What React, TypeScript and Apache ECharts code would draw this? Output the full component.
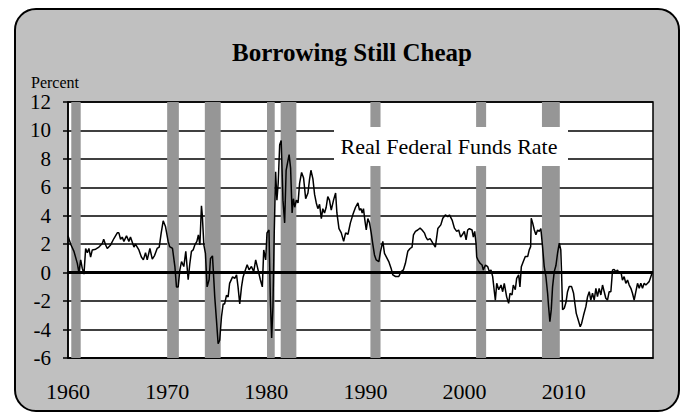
import React, { useEffect, useRef } from "react";
import * as echarts from "echarts";

const titleText = "Borrowing Still Cheap";
const unitText = "Percent";
const seriesName = "Real Federal Funds Rate";

const years = [
  1960.0, 1960.27, 1960.6, 1960.94, 1961.1, 1961.28, 1961.44, 1961.61, 1961.78, 1961.95,
  1962.11, 1962.28, 1962.45, 1962.79, 1963.12, 1963.46, 1963.6, 1963.8, 1963.96, 1964.3,
  1964.63, 1964.97, 1965.13, 1965.3, 1965.47, 1965.64, 1965.9, 1966.14, 1966.3, 1966.65,
  1966.8, 1967.15, 1967.4, 1967.6, 1967.82, 1967.99, 1968.26, 1968.5, 1968.73, 1968.99,
  1969.2, 1969.4, 1969.6, 1969.83, 1970.1, 1970.25, 1970.54, 1970.78, 1970.94, 1971.11,
  1971.28, 1971.45, 1971.68, 1971.88, 1972.12, 1972.29, 1972.45, 1972.62, 1972.79, 1973.0,
  1973.15, 1973.3, 1973.46, 1973.55, 1973.7, 1973.86, 1974.03, 1974.23, 1974.37, 1974.57,
  1974.7, 1974.8, 1974.97, 1975.14, 1975.3, 1975.48, 1975.65, 1975.8, 1975.98, 1976.15,
  1976.3, 1976.6, 1976.82, 1977.0, 1977.15, 1977.32, 1977.5, 1977.66, 1977.83, 1978.07,
  1978.26, 1978.5, 1978.73, 1978.93, 1979.17, 1979.4, 1979.6, 1979.74, 1979.94, 1980.07,
  1980.27, 1980.41, 1980.54, 1980.67, 1980.8, 1980.94, 1981.07, 1981.2, 1981.35, 1981.5,
  1981.68, 1981.85, 1982.0, 1982.3, 1982.45, 1982.6, 1982.73, 1982.87, 1983.03, 1983.2,
  1983.36, 1983.56, 1983.76, 1983.97, 1984.2, 1984.35, 1984.5, 1984.7, 1984.87, 1985.04,
  1985.2, 1985.37, 1985.55, 1985.7, 1985.87, 1986.04, 1986.2, 1986.37, 1986.55, 1986.78,
  1986.99, 1987.12, 1987.33, 1987.56, 1987.8, 1988.0, 1988.24, 1988.48, 1988.74, 1989.0,
  1989.24, 1989.4, 1989.55, 1989.67, 1989.8, 1989.94, 1990.08, 1990.24, 1990.41, 1990.58,
  1990.74, 1990.91, 1991.08, 1991.35, 1991.52, 1991.75, 1991.92, 1992.09, 1992.35, 1992.59,
  1992.76, 1993.03, 1993.36, 1993.6, 1993.83, 1994.03, 1994.27, 1994.5, 1994.7, 1994.84,
  1995.04, 1995.27, 1995.51, 1995.71, 1995.94, 1996.1, 1996.27, 1996.52, 1996.78, 1997.05,
  1997.3, 1997.6, 1997.8, 1998.06, 1998.3, 1998.47, 1998.74, 1998.97, 1999.2, 1999.4,
  1999.6, 1999.8, 1999.97, 2000.15, 2000.31, 2000.48, 2000.75, 2000.88, 2001.02, 2001.15,
  2001.22, 2001.35, 2001.56, 2001.76, 2001.89, 2002.1, 2002.33, 2002.5, 2002.66, 2002.83,
  2003.0, 2003.1, 2003.24, 2003.44, 2003.67, 2003.84, 2004.0, 2004.24, 2004.44, 2004.58,
  2004.78, 2004.91, 2005.11, 2005.25, 2005.45, 2005.58, 2005.72, 2005.92, 2006.12, 2006.36,
  2006.52, 2006.66, 2006.72, 2006.86, 2007.03, 2007.19, 2007.36, 2007.53, 2007.69, 2007.86,
  2008.03, 2008.2, 2008.37, 2008.47, 2008.6, 2008.74, 2008.87, 2009.04, 2009.21, 2009.38,
  2009.55, 2009.7, 2009.78, 2009.88, 2010.05, 2010.22, 2010.38, 2010.55, 2010.79, 2010.99,
  2011.12, 2011.26, 2011.46, 2011.66, 2011.8, 2012.0, 2012.23, 2012.4, 2012.57, 2012.73,
  2012.9, 2013.07, 2013.24, 2013.4, 2013.57, 2013.74, 2013.91, 2014.08, 2014.24, 2014.41,
  2014.58, 2014.75, 2014.92, 2015.08, 2015.25, 2015.42, 2015.59, 2015.76, 2015.92, 2016.09,
  2016.26, 2016.43, 2016.6, 2016.77, 2016.93, 2017.1, 2017.27, 2017.44, 2017.61, 2017.77,
  2017.94, 2018.11, 2018.28, 2018.45, 2018.61, 2018.78, 2018.95,
];

const rates = [
  2.6, 2.0, 1.5, 0.65, 0.0, 0.9, 0.3, -0.1, 1.7, 1.4,
  1.7, 1.1, 1.6, 1.65, 1.8, 2.05, 2.35, 1.95, 1.7, 1.95,
  2.4, 2.8, 2.8, 2.35, 2.5, 2.2, 2.6, 2.2, 2.5, 1.8,
  2.0, 1.6, 1.1, 0.9, 1.4, 0.9, 1.7, 0.95, 1.2, 1.7,
  1.8, 2.8, 3.65, 3.25, 2.2, 1.83, 1.7, 0.43, -1.0, -1.0,
  0.2, 0.78, 0.43, 1.5, -0.5, 0.66, 1.5, 1.6, 1.95, 2.2,
  2.66, 1.95, 4.7, 4.0, 1.95, 1.36, -1.0, -0.5, 1.0, 1.18,
  -0.4, -1.7, -3.3, -5.0, -4.75, -3.1, -2.2, -2.2, -1.6, -1.7,
  -0.75, -0.3, -0.4, -0.16, -1.0, -2.2, -1.0, -0.3, 0.07, 0.55,
  0.2, 0.43, 0.07, 0.9, 0.2, -0.5, -1.0, 1.6, 0.9, 2.8,
  3.0, -1.9, -4.6, -2.4, 2.8, 7.1, 5.1, 6.3, 9.0, 9.3,
  5.1, 3.5, 7.2, 8.3, 7.35, 4.2, 5.2, 4.6, 5.1, 4.9,
  6.3, 7.05, 6.65, 5.2, 5.6, 6.5, 7.2, 6.6, 5.5, 4.9,
  4.5, 4.8, 3.8, 4.5, 4.2, 4.6, 5.35, 5.1, 4.4, 5.1,
  5.6, 4.2, 3.1, 2.8, 2.2, 2.8, 2.7, 3.5, 4.1, 4.6,
  4.9, 4.4, 4.5, 4.2, 4.5, 3.7, 3.0, 3.8, 3.5, 2.8,
  2.0, 1.25, 0.9, 0.78, 1.5, 2.2, 1.36, 1.13, 0.78, 0.3,
  -0.16, -0.27, -0.27, 0.07, 0.2, 0.66, 1.5, 1.7, 1.8, 2.66,
  2.9, 3.0, 3.13, 3.0, 2.8, 2.5, 2.3, 2.4, 2.1, 1.8,
  3.1, 3.36, 3.83, 4.06, 3.94, 4.06, 3.7, 3.13, 2.9, 3.0,
  2.5, 2.7, 2.9, 2.3, 3.0, 3.1, 3.0, 2.5, 2.9, 2.07,
  1.1, 0.9, 0.66, 0.54, 0.19, 0.54, 0.42, 0.07, 0.19, -0.28,
  -1.34, -1.93, -0.75, -1.2, -0.87, -1.34, -0.75, -1.7, -2.16, -1.45,
  -1.57, -0.87, -1.2, -0.4, -0.16, -1.0, 0.42, 0.78, 1.13, 1.13,
  1.6, 1.83, 3.83, 3.5, 3.0, 2.66, 3.0, 2.9, 3.1, 1.83,
  0.42, -0.28, -1.45, -2.4, -3.44, -2.6, -1.0, 0.07, 0.5, 1.4,
  2.07, 1.6, -0.05, -2.6, -2.5, -2.1, -1.34, -0.98, -0.98, -1.45,
  -2.16, -2.86, -3.33, -3.8, -3.57, -2.98, -2.39, -1.69, -1.34, -1.93,
  -1.45, -1.93, -1.1, -1.69, -1.1, -1.57, -0.87, -1.34, -1.8, -1.93,
  -1.34, -1.34, 0.19, 0.23, 0.07, 0.19, -0.05, 0.07, -0.52, -0.28,
  -0.75, -0.52, -0.87, -1.1, -1.45, -1.93, -1.34, -0.75, -1.1, -0.75,
  -1.1, -0.75, -0.87, -0.75, -0.63, -0.28, 0.07,
];

const recessionStarts = [1960.33, 1970.0, 1973.8, 1980.07, 1981.45, 1990.5, 2001.16, 2007.8];
const recessionEnds = [1961.28, 1971.18, 1975.4, 1980.85, 1983.03, 1991.52, 2002.17, 2009.6];

const xMin = 1960;
const xMax = 2019;
const xStep = 10;
const yMin = -6;
const yMax = 12;
const yStep = 2;

export default function App() {
  const ref = useRef<HTMLDivElement>(null);

  useEffect(() => {
    if (!ref.current) return;
    const chart = echarts.init(ref.current, null, { renderer: "svg" });
    const serif = "'Liberation Serif', 'Times New Roman', serif";
    const black = "#000000";
    chart.setOption({
      animation: false,
      grid: {
        left: 68,
        right: 34,
        top: 102,
        bottom: 58,
        show: true,
        backgroundColor: "#ffffff",
        borderColor: black,
        borderWidth: 1.5,
      },
      xAxis: {
        type: "value",
        min: xMin,
        max: xMax,
        interval: xStep,
        axisLine: { show: true, onZero: false, lineStyle: { color: black, width: 1.5 } },
        axisTick: { show: false },
        splitLine: { show: false },
        axisLabel: {
          color: black,
          fontFamily: serif,
          fontSize: 22,
          margin: 22,
          showMaxLabel: false,
          formatter: (v: number) => String(v),
        },
      },
      yAxis: {
        type: "value",
        min: yMin,
        max: yMax,
        interval: yStep,
        axisLine: { show: true, lineStyle: { color: black, width: 1.5 } },
        axisTick: { show: true, length: 5, lineStyle: { color: black, width: 1.5 } },
        splitLine: { show: true, lineStyle: { color: black, width: 1.5 } },
        axisLabel: { color: black, fontFamily: serif, fontSize: 21, margin: 17 },
      },
      series: [
        {
          name: seriesName,
          type: "line",
          data: years.map((y, i) => [y, rates[i]]),
          showSymbol: false,
          symbol: "none",
          lineStyle: { color: black, width: 1.5 },
          z: 3,
          markArea: {
            silent: true,
            itemStyle: { color: "#969696" },
            data: recessionStarts.map((s, i) => [{ xAxis: s }, { xAxis: recessionEnds[i] }]),
          },
          markLine: {
            silent: true,
            symbol: "none",
            label: { show: false },
            lineStyle: { color: black, width: 3, type: "solid" },
            data: [{ yAxis: 0 }],
          },
        },
      ],
      graphic: [
        {
          type: "text",
          left: undefined,
          x: 352,
          y: 52,
          z: 100,
          style: {
            text: titleText,
            fill: black,
            font: `bold 25px ${serif}`,
            textAlign: "center",
            textVerticalAlign: "middle",
          },
        },
        {
          type: "text",
          x: 31,
          y: 82,
          z: 100,
          style: {
            text: unitText,
            fill: black,
            font: `16px ${serif}`,
            textAlign: "left",
            textVerticalAlign: "middle",
          },
        },
        {
          type: "rect",
          x: 334,
          y: 127,
          z: 100,
          shape: { width: 234, height: 39 },
          style: { fill: "#ffffff" },
        },
        {
          type: "text",
          x: 449,
          y: 146,
          z: 101,
          style: {
            text: seriesName,
            fill: black,
            font: `22px ${serif}`,
            textAlign: "center",
            textVerticalAlign: "middle",
          },
        },
      ],
    });
    return () => chart.dispose();
  }, []);

  return (
    <div style={{ position: "absolute", left: 0, top: 0, width: 687, height: 416 }}>
      <div
        style={{
          position: "absolute",
          left: 14,
          top: 8,
          width: 662,
          height: 400,
          background: "#c0c0c0",
          border: "2px solid #000",
          borderRadius: 22,
        }}
      />
      <div ref={ref} style={{ position: "absolute", left: 0, top: 0, width: 687, height: 416 }} />
    </div>
  );
}
